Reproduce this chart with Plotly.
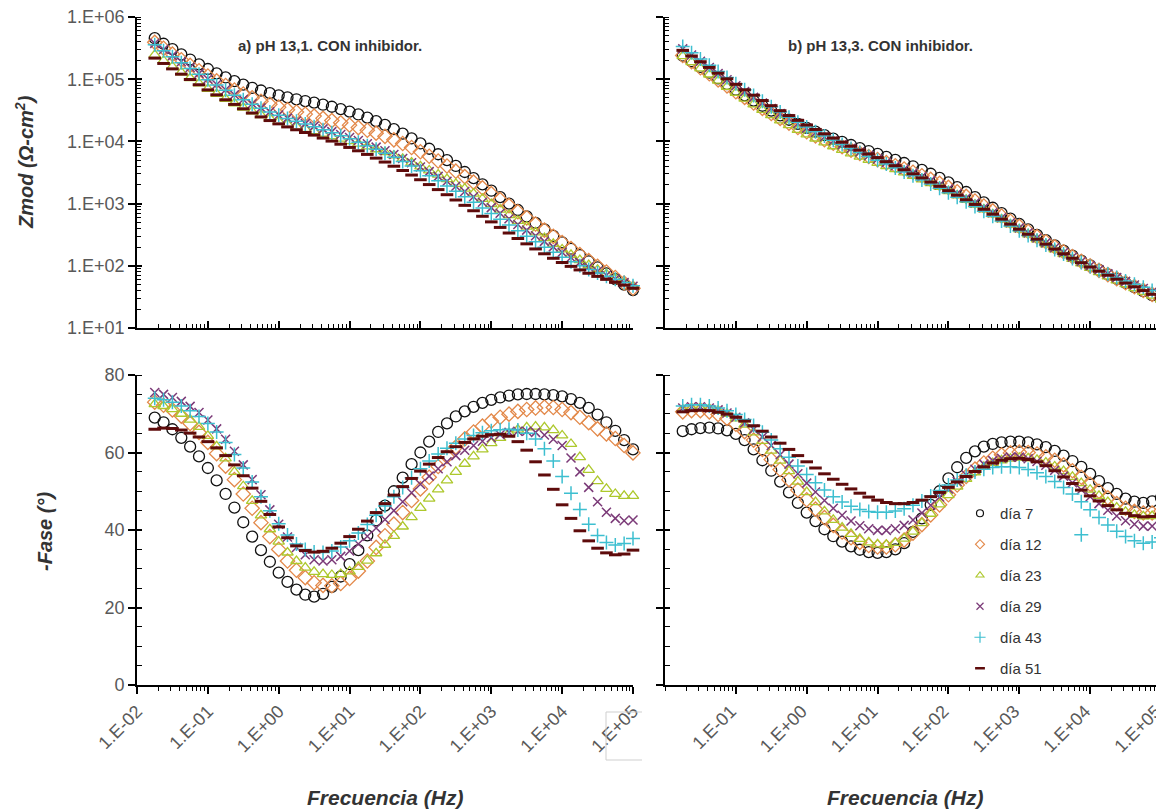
import plotly.graph_objects as go

# ---------------- data ----------------
freq = [0.0178, 0.0237, 0.0316, 0.0422, 0.0562, 0.075, 0.1, 0.133, 0.178, 0.237,
        0.316, 0.422, 0.562, 0.75, 1.0, 1.33, 1.78, 2.37, 3.16, 4.22,
        5.62, 7.5, 10, 13.3, 17.8, 23.7, 31.6, 42.2, 56.2, 75,
        100, 133, 178, 237, 316, 422, 562, 750, 1000, 1334,
        1778, 2371, 3162, 4217, 5623, 7499, 10000, 13335, 17783, 23714,
        31623, 42170, 56234, 74989, 100000]

series_names = ["día 7", "día 12", "día 23", "día 29", "día 43", "día 51"]

# panel a) pH 13,1 - Zmod (ohm-cm2)
a_zmod_d7 = [456000, 371500, 303400, 250000, 207000, 173400, 145900, 124200, 106700, 92900,
             81850, 72780, 65770, 59700, 54950, 50930, 47530, 44570, 41980, 38900,
             36060, 33110, 30060, 27100, 24100, 21130, 18370, 15740, 13340, 11170,
             9268, 7621, 6209, 5012, 4027, 3221, 2564, 2037, 1611, 1274,
             1002, 789, 621, 489, 385, 303, 238, 188, 149, 118,
             94.2, 75.5, 61.1, 49.7, 40.7]
a_zmod_d12 = [391700, 314800, 253500, 205100, 166700, 136800, 112700, 93970, 79070, 67140,
              57810, 50350, 44260, 39450, 35560, 32360, 29720, 27420, 25500, 23460,
              21610, 19890, 18250, 16670, 15110, 13560, 12050, 10600, 9240, 7973,
              6815, 5768, 4838, 4023, 3319, 2718, 2212, 1791, 1443, 1159,
              928, 741, 591, 470.7, 374.4, 297.7, 236.9, 189.0, 151.2, 121.5,
              98.1, 79.6, 64.8, 53.0, 43.6]
a_zmod_d23 = [246600, 198200, 159600, 129100, 104500, 85510, 70150, 58080, 48530, 41020,
              35080, 30340, 26550, 23500, 21040, 19010, 17340, 15850, 14620, 13340,
              12160, 11090, 10120, 9204, 8318, 7482, 6699, 5943, 5236, 4571,
              3963, 3412, 2917, 2472, 2080, 1738, 1445, 1191, 979.5, 799.8,
              651.6, 528.4, 427.6, 345.1, 279.3, 225.9, 183.2, 149.6, 123.3, 102.8,
              86.5, 73.3, 62.5, 53.5, 45.7]
a_zmod_d29 = [376700, 299900, 239300, 191400, 153800, 124200, 100500, 82220, 67610, 56230,
              47320, 40180, 34590, 30060, 26550, 23660, 21330, 19320, 17620, 15890,
              14350, 12910, 11590, 10350, 9183, 8091, 7079, 6152, 5309, 4550,
              3864, 3266, 2742, 2286, 1897, 1567, 1288, 1054, 861, 701.5,
              570.2, 462.4, 375.0, 304.1, 247.2, 201.4, 164.8, 136.1, 113.5, 95.7,
              81.8, 70.6, 61.4, 53.6, 46.8]
a_zmod_d43 = [358100, 287100, 229600, 184500, 148600, 120500, 97950, 80350, 66220, 55210,
              46560, 39630, 34200, 29790, 26300, 23390, 21040, 18970, 17220, 15420,
              13800, 12360, 10990, 9727, 8551, 7464, 6457, 5546, 4732, 4009,
              3365, 2805, 2323, 1914, 1574, 1285, 1047, 851.1, 691.8, 559.8,
              453.9, 367.3, 297.8, 242.7, 199.1, 164.4, 137.7, 116.7, 100.2, 87.3,
              76.7, 68.1, 60.5, 54.0, 47.9]
a_zmod_d51 = [218300, 179100, 146600, 120500, 98850, 81470, 67300, 55980, 46670, 39360,
              33420, 28580, 24770, 21630, 19140, 17100, 15380, 13900, 12620, 11320,
              10120, 9016, 7998, 7063, 6180, 5383, 4656, 3990, 3404, 2877,
              2421, 2023, 1679, 1390, 1143, 937.6, 767.4, 625.2, 508.2, 414.0,
              336.5, 274.8, 225.4, 186.6, 156.0, 132.1, 113.0, 97.9, 85.9, 75.9,
              67.6, 60.5, 54.3, 48.8, 43.6]

# panel a) pH 13,1 - -Fase (deg)
a_fase_d7 = [69, 67.8, 66, 63.8, 61.5, 59, 56, 52.8, 49.3, 45.8,
             42, 38.3, 34.8, 31.8, 29, 26.6, 24.6, 23.3, 22.8, 23.5,
             25.3, 28, 31.2, 34.8, 38.6, 42.5, 46.3, 50, 53.5, 57,
             60, 62.8, 65.3, 67.5, 69.3, 70.6, 71.8, 72.8, 73.6, 74.2,
             74.7, 75, 75.1, 75.1, 75, 74.8, 74.5, 73.8, 72.8, 71.5,
             69.8, 67.8, 65.6, 63.2, 60.8]
a_fase_d12 = [73, 72.2, 71, 69.4, 67.5, 65.2, 62.6, 59.7, 56.5, 53,
              49.3, 45.6, 41.9, 38.3, 35, 32, 29.6, 27.7, 26.4, 25.7,
              25.6, 26.2, 27.5, 29.4, 32, 35.5, 38.5, 41.5, 44.5, 47.6,
              50.6, 53.6, 56.4, 59, 61.4, 63.5, 65.3, 66.8, 68.1, 69.1,
              69.9, 70.6, 71.1, 71.5, 71.7, 71.6, 71.1, 70.3, 69.1, 67.7,
              66.1, 64.8, 63.6, 61.8, 59.9]
a_fase_d23 = [72.5, 72, 71.2, 70, 68.5, 66.6, 64.3, 61.6, 58.5, 55,
              51.3, 47.5, 43.8, 40.2, 37, 34.2, 32, 30.3, 29.2, 28.6,
              28.4, 28.6, 29.3, 30.5, 32.1, 34, 36.2, 38.5, 40.9, 43.3,
              45.7, 48.1, 50.5, 52.8, 55, 57.1, 59, 60.8, 62.4, 63.8,
              65, 65.9, 66.5, 66.7, 66.5, 65.8, 64.4, 62.2, 58.8, 55.5,
              52.6, 50.6, 49.3, 48.8, 48.8]
a_fase_d29 = [75.5, 75, 74.2, 73.2, 71.9, 70.3, 68.4, 66.1, 63.4, 60.3,
              56.8, 53, 49.1, 45.2, 41.5, 38.2, 35.5, 33.6, 32.3, 32,
              32.3, 33.2, 34.6, 36.4, 38.4, 40.5, 42.7, 45, 47.3, 49.6,
              51.8, 53.9, 55.8, 57.6, 59.2, 60.6, 61.8, 62.9, 63.8, 64.6,
              65.2, 65.5, 65.5, 65.2, 64.5, 63.4, 61.8, 58.6, 55, 51,
              47.3, 44.6, 43, 42.4, 42.6]
a_fase_d43 = [74, 73.6, 73, 72, 70.8, 69.3, 67.5, 65.3, 62.6, 59.5,
              56, 52.4, 48.6, 45, 41.6, 38.7, 36.4, 35, 34.3, 34.2,
              34.6, 35.6, 37.2, 39.2, 41.4, 43.8, 46.2, 48.6, 51, 53.5,
              55.8, 57.8, 59.6, 61.1, 62.4, 63.5, 64.4, 65.1, 65.6, 65.9,
              66, 65.8, 65, 63.5, 61, 57.8, 53.8, 49.5, 45.3, 41.5,
              38.6, 36.8, 36.1, 36.5, 37.8]
a_fase_d51 = [66, 66.3, 66.2, 65.8, 65, 64, 62.8, 61.2, 59.2, 56.8,
              54, 50.8, 47.4, 44, 40.8, 38, 35.9, 34.7, 34.3, 34.5,
              35.3, 36.6, 38.3, 40.2, 42.3, 44.5, 46.8, 49, 51.2, 53.3,
              55.2, 57, 58.7, 60.2, 61.5, 62.6, 63.5, 64.2, 64.6, 64.7,
              64.2, 62.8, 60.6, 57.6, 54.2, 50.5, 46.5, 43, 39.8, 37.2,
              35.3, 34.1, 33.6, 33.8, 34.8]

# panel b) pH 13,3 - Zmod (ohm-cm2)
b_zmod_d7 = [239900, 194500, 157400, 127100, 102800, 83370, 67610, 55080, 45190, 37410,
             31190, 26240, 22280, 19100, 16520, 14350, 12590, 11090, 9840, 8750,
             7816, 6998, 6281, 5623, 5035, 4498, 3981, 3491, 3020, 2588,
             2198, 1845, 1535, 1268, 1045, 857.0, 701.5, 574.1, 469.9, 384.6,
             314.8, 258.8, 212.8, 175.8, 145.9, 121.3, 101.6, 85.7, 72.6, 61.9,
             53.0, 45.5, 39.1, 33.7, 28.8]
b_zmod_d12 = [241000, 191900, 153100, 122200, 97720, 78160, 62950, 50930, 41400, 33960,
              28120, 23440, 19680, 16710, 14290, 12300, 10670, 9333, 8204, 7244,
              6427, 5715, 5105, 4550, 4055, 3606, 3192, 2805, 2449, 2118,
              1820, 1549, 1309, 1099, 916.2, 762.1, 631.0, 521.2, 430.5, 355.6,
              293.8, 243.2, 201.8, 167.9, 140.3, 117.8, 99.5, 84.5, 72.3, 62.1,
              53.6, 46.3, 40.2, 34.8, 30.2]
b_zmod_d23 = [235500, 187500, 149300, 118900, 94620, 75680, 60530, 48750, 39450, 32140,
              26360, 21830, 18200, 15310, 13000, 11140, 9616, 8356, 7328, 6442,
              5702, 5058, 4508, 4009, 3573, 3170, 2799, 2460, 2143, 1854,
              1589, 1355, 1146, 963.8, 807.2, 673.0, 559.8, 464.5, 385.5, 319.9,
              265.5, 220.8, 184.1, 153.8, 129.4, 109.1, 92.7, 79.1, 67.8, 58.5,
              50.6, 43.9, 38.2, 33.2, 28.8]
b_zmod_d29 = [307600, 244300, 194500, 154500, 123000, 98170, 78520, 63100, 51050, 41400,
              33880, 27930, 23170, 19360, 16330, 13900, 11890, 10230, 8872, 7727,
              6761, 5943, 5224, 4603, 4046, 3556, 3105, 2704, 2339, 2009,
              1714, 1455, 1227, 1028, 859.0, 714.5, 592.9, 492.0, 407.4, 338.1,
              280.5, 233.9, 195.4, 164.1, 138.4, 117.5, 100.2, 86.1, 74.3, 64.6,
              56.2, 49.2, 43.1, 37.8, 33.1]
b_zmod_d43 = [335000, 266100, 211300, 167500, 133400, 106200, 84720, 67920, 54700, 44260,
              36060, 29580, 24430, 20280, 17020, 14350, 12160, 10400, 8913, 7674,
              6637, 5741, 4977, 4315, 3741, 3236, 2793, 2404, 2061, 1762,
              1496, 1265, 1067, 895.4, 749.9, 628.1, 524.8, 437.5, 365.6, 306.2,
              256.4, 215.8, 182.0, 154.2, 131.2, 112.5, 97.0, 84.3, 73.6, 64.7,
              57.1, 50.6, 45.0, 40.0, 35.5]
b_zmod_d51 = [291100, 236000, 191000, 154900, 125300, 101600, 82790, 67610, 55340, 45390,
              37500, 31120, 26000, 21830, 18370, 15560, 13240, 11320, 9727, 8395,
              7261, 6310, 5495, 4721, 4064, 3499, 3013, 2588, 2218, 1897,
              1614, 1368, 1153, 970.5, 810.9, 677.6, 562.3, 467.7, 387.3, 321.4,
              267.3, 222.8, 186.2, 156.3, 132.1, 112.2, 95.7, 82.0, 70.6, 61.0,
              52.8, 45.9, 39.9, 34.8, 30.2]

# panel b) pH 13,3 - -Fase (deg)
b_fase_d7 = [65.5, 66, 66.3, 66.4, 66.2, 65.7, 64.8, 63.2, 60.8, 58,
             55.3, 52.5, 49.7, 47, 44.5, 42.3, 40.2, 38.4, 37, 35.8,
             34.9, 34.3, 34.1, 34.3, 35, 36.6, 39.5, 43, 46.5, 50,
             53.3, 56.2, 58.6, 60.3, 61.5, 62.2, 62.6, 62.8, 62.8, 62.6,
             62.1, 61.4, 60.4, 59.2, 57.8, 56.3, 54.5, 52.6, 50.8, 49.3,
             48.1, 47.3, 47, 47.4, 48.3]
b_fase_d12 = [70.5, 70.8, 70.8, 70.5, 69.8, 68.8, 67.3, 65.4, 63.2, 60.8,
              58.2, 55.6, 53, 50.3, 47.8, 45.4, 43.2, 41.2, 39.5, 38,
              36.8, 36, 35.6, 35.6, 36.2, 37.4, 39.2, 41.4, 43.9, 46.5,
              49.1, 51.6, 53.8, 55.7, 57.3, 58.5, 59.4, 59.9, 60.1, 60,
              59.6, 58.9, 58, 56.8, 55.3, 53.6, 51.8, 50, 48.3, 46.8,
              45.6, 44.8, 44.4, 44.4, 44.9]
b_fase_d23 = [71, 71.4, 71.5, 71.3, 70.8, 70, 68.8, 67.2, 65.2, 63,
              60.5, 57.9, 55.2, 52.5, 49.8, 47.2, 44.8, 42.6, 40.6, 39,
              37.7, 36.8, 36.3, 36.2, 36.7, 37.8, 39.6, 41.8, 44.2, 46.6,
              49, 51.2, 53.2, 54.9, 56.3, 57.3, 58, 58.4, 58.6, 58.5,
              58.1, 57.4, 56.4, 55.2, 53.7, 52.1, 50.4, 48.8, 47.2, 45.8,
              44.7, 43.9, 43.5, 43.6, 44.2]
b_fase_d29 = [71.5, 71.8, 71.8, 71.5, 71, 70.2, 69.1, 67.7, 66, 64,
              61.8, 59.4, 57, 54.5, 52.1, 49.8, 47.6, 45.6, 43.8, 42.3,
              41.1, 40.3, 39.9, 39.9, 40.3, 41.2, 42.6, 44.4, 46.4, 48.5,
              50.6, 52.5, 54.2, 55.7, 57, 57.9, 58.5, 58.8, 58.8, 58.4,
              57.7, 56.7, 55.4, 53.9, 52.2, 50.4, 48.6, 46.8, 45.1, 43.6,
              42.4, 41.5, 41, 41, 41.5]
b_fase_d43 = [72, 72.3, 72.3, 72, 71.5, 70.8, 69.8, 68.5, 67, 65.2,
              63.2, 61, 58.8, 56.5, 54.3, 52.2, 50.3, 48.6, 47.2, 46.1,
              45.3, 44.8, 44.6, 44.6, 44.9, 45.5, 46.4, 47.5, 48.8, 50.2,
              51.6, 52.9, 54.1, 55, 55.7, 56.1, 56.3, 56.3, 56.1, 55.6,
              54.8, 53.8, 52.5, 51, 49.3, 47.3, 45.2, 43.2, 41.3, 39.7,
              38.3, 37.2, 36.6, 36.9, 38]
b_fase_d51 = [70.5, 70.8, 70.9, 70.8, 70.4, 69.9, 69.1, 68.1, 66.9, 65.5,
              64, 62.4, 60.8, 59.2, 57.6, 56, 54.5, 53.1, 51.8, 50.6,
              49.5, 48.5, 47.7, 47.1, 46.8, 46.8, 47.1, 47.7, 48.6, 49.7,
              51, 52.4, 53.8, 55.1, 56.3, 57.3, 58, 58.4, 58.5, 58.2,
              57.6, 56.6, 55.3, 53.7, 52, 50.3, 48.8, 47.5, 46.3, 45.2,
              44.3, 43.7, 43.4, 43.5, 44]
# isolated point of día 43 in panel b
b_fase_d43_extra_freq = [7499]
b_fase_d43_extra = [38.8]

x_tickvals = [0.01, 0.1, 1, 10, 100, 1000, 10000, 100000]
x_ticktext = ["1.E-02", "1.E-01", "1.E+00", "1.E+01", "1.E+02", "1.E+03", "1.E+04", "1.E+05"]
z_tickvals = [10, 100, 1000, 10000, 100000, 1000000]
z_ticktext = ["1.E+01", "1.E+02", "1.E+03", "1.E+04", "1.E+05", "1.E+06"]
f_tickvals = [0, 20, 40, 60, 80]

all_lists = [a_zmod_d7, a_zmod_d12, a_zmod_d23, a_zmod_d29, a_zmod_d43, a_zmod_d51,
             a_fase_d7, a_fase_d12, a_fase_d23, a_fase_d29, a_fase_d43, a_fase_d51,
             b_zmod_d7, b_zmod_d12, b_zmod_d23, b_zmod_d29, b_zmod_d43, b_zmod_d51,
             b_fase_d7, b_fase_d12, b_fase_d23, b_fase_d29, b_fase_d43, b_fase_d51]
for i, lst in enumerate(all_lists):
    assert len(lst) == len(freq), (i, len(lst))

# ---------------- styling ----------------
# The page body adds an 8 px margin, so the figure is 8 px smaller than the
# window on each side and every target pixel coordinate is shifted by 8.
OFF = 8
W, H = 1164 - OFF, 812 - OFF
FONT = "Liberation Sans, Arial, sans-serif"
styles = [
    dict(symbol="circle-open", color="#111111", size=11, lw=1.3),
    dict(symbol="diamond-open", color="#E3894A", size=11, lw=1.3),
    dict(symbol="triangle-up-open", color="#ADC82C", size=10, lw=1.3),
    dict(symbol="x-thin", color="#7B3A78", size=9, lw=1.5),
    dict(symbol="cross-thin", color="#3DBFD0", size=10, lw=1.5),
    dict(symbol="line-ew", color="#5E0B0B", size=9, lw=3),
]

a_zmod = [a_zmod_d7, a_zmod_d12, a_zmod_d23, a_zmod_d29, a_zmod_d43, a_zmod_d51]
a_fase = [a_fase_d7, a_fase_d12, a_fase_d23, a_fase_d29, a_fase_d43, a_fase_d51]
b_zmod = [b_zmod_d7, b_zmod_d12, b_zmod_d23, b_zmod_d29, b_zmod_d43, b_zmod_d51]
b_fase = [b_fase_d7, b_fase_d12, b_fase_d23, b_fase_d29, b_fase_d43, b_fase_d51]


def px(x):
    return (x - OFF) / W


def py(y):
    return 1 - (y - OFF) / H


def marker(st, size=None, lw=None):
    return dict(symbol=st["symbol"], size=size or st["size"], color=st["color"],
                line=dict(color=st["color"], width=lw or st["lw"]))


fig = go.Figure()
panels = [(a_zmod, "x", "y"), (b_zmod, "x2", "y2"), (a_fase, "x3", "y3"), (b_fase, "x4", "y4")]
for data, xa, ya in panels:
    for k, vals in enumerate(data):
        fig.add_trace(go.Scatter(
            x=freq, y=vals, mode="markers", xaxis=xa, yaxis=ya,
            name=series_names[k], legendgroup=series_names[k], showlegend=False,
            cliponaxis=False, marker=marker(styles[k])))

fig.add_trace(go.Scatter(
    x=b_fase_d43_extra_freq, y=b_fase_d43_extra, mode="markers", xaxis="x4", yaxis="y4",
    showlegend=False, cliponaxis=False, marker=marker(styles[4])))

# legend entries (small symbols, like the reference legend)
legend_sizes = [7, 7, 7, 7, 8, 7]
legend_lw = [1.2, 1.1, 1.1, 1.2, 1.2, 2.5]
for k, name in enumerate(series_names):
    fig.add_trace(go.Scatter(
        x=[None], y=[None], mode="markers", xaxis="x4", yaxis="y4",
        name=name, legendgroup=name, showlegend=True,
        marker=marker(styles[k], legend_sizes[k], legend_lw[k])))

# invisible anchors for the overlay axes that draw the inner half of the major y ticks
for xa, ya in [("x", "y5"), ("x2", "y6"), ("x3", "y7"), ("x4", "y8")]:
    fig.add_trace(go.Scatter(x=[None], y=[None], xaxis=xa, yaxis=ya, showlegend=False,
                             mode="markers", hoverinfo="skip"))

left_dom = [px(137), px(633)]
right_dom = [px(665), px(1161)]
top_dom = [py(328), py(17)]
bot_dom = [py(685), py(375)]

tickfont = dict(family=FONT, size=18, color="#595959")


def xaxis(domain, anchor, ticks, labels, vals, texts, shift=0):
    return dict(type="log", range=[-2, 5], domain=domain, anchor=anchor, automargin=False,
                showline=True, linecolor="black", linewidth=1.6, mirror=False,
                showgrid=False, zeroline=False, ticklabeloverflow="allow",
                ticklabelshift=shift,
                tickmode="array", tickvals=vals, ticktext=texts,
                showticklabels=labels, tickangle=-45, tickfont=tickfont,
                ticks=ticks, ticklen=7, tickwidth=1.5, tickcolor="black",
                minor=dict(ticks=ticks, ticklen=4, tickwidth=1.2, tickcolor="black",
                           dtick="D1", showgrid=False))


def zaxis(domain, anchor, labels):
    return dict(type="log", range=[1, 6], domain=domain, anchor=anchor, automargin=False,
                showline=True, linecolor="black", linewidth=1.6,
                showgrid=False, zeroline=False, ticklabeloverflow="allow",
                tickmode="array", tickvals=z_tickvals, ticktext=z_ticktext,
                showticklabels=labels, tickfont=tickfont,
                ticks="outside", ticklen=7, tickwidth=1.5, tickcolor="black",
                minor=dict(ticks="inside", ticklen=4, tickwidth=1.2, tickcolor="black",
                           dtick="D1", showgrid=False))


def faxis(domain, anchor, labels):
    return dict(range=[0, 80], domain=domain, anchor=anchor, automargin=False,
                showline=True, linecolor="black", linewidth=1.6,
                showgrid=False, zeroline=False, ticklabeloverflow="allow",
                tickmode="array", tickvals=f_tickvals,
                showticklabels=labels, tickfont=tickfont,
                ticks="outside", ticklen=7, tickwidth=1.5, tickcolor="black",
                minor=dict(ticks="inside", ticklen=5, tickwidth=1.2, tickcolor="black",
                           dtick=5, showgrid=False))


def inner_ticks(anchor, overlay, log):
    d = dict(overlaying=overlay, anchor=anchor, automargin=False, showline=False,
             showgrid=False, zeroline=False, showticklabels=False,
             ticks="inside", ticklen=5, tickwidth=1.5, tickcolor="black",
             tickmode="array")
    if log:
        d.update(type="log", range=[1, 6], tickvals=z_tickvals)
    else:
        d.update(range=[0, 80], tickvals=f_tickvals)
    return d


fig.update_layout(
    width=W, height=H, margin=dict(l=0, r=0, t=0, b=0, autoexpand=False),
    paper_bgcolor="white", plot_bgcolor="white",
    font=dict(family=FONT, color="#333333"),
    xaxis=xaxis(left_dom, "y", "inside", False, x_tickvals, x_ticktext),
    xaxis2=xaxis(right_dom, "y2", "inside", False, x_tickvals, x_ticktext),
    xaxis3=xaxis(left_dom, "y3", "outside", True, x_tickvals, x_ticktext),
    xaxis4=xaxis(right_dom, "y4", "outside", True, x_tickvals[1:], x_ticktext[1:], shift=-5),
    yaxis=zaxis(top_dom, "x", True),
    yaxis2=zaxis(top_dom, "x2", False),
    yaxis3=faxis(bot_dom, "x3", True),
    yaxis4=faxis(bot_dom, "x4", False),
    yaxis5=inner_ticks("x", "y", True),
    yaxis6=inner_ticks("x2", "y2", True),
    yaxis7=inner_ticks("x3", "y3", False),
    yaxis8=inner_ticks("x4", "y4", False),
    legend=dict(x=px(960), y=py(497), xanchor="left", yanchor="top",
                bgcolor="rgba(0,0,0,0)", borderwidth=0, tracegroupgap=8.5, itemwidth=30,
                font=dict(family=FONT, size=15, color="#333333")),
    showlegend=True,
)

# white box behind the legend (hides the data under it, like the reference)
fig.add_shape(type="rect", xref="paper", yref="paper", layer="above",
              x0=px(966), x1=px(1052), y0=py(680), y1=py(493),
              fillcolor="white", line=dict(width=0))

title_font = dict(family=FONT, size=15, color="#333333")
axis_font = dict(family=FONT, size=20, color="#333333")
annotations = [
    dict(text="<b>a) pH 13,1. CON inhibidor.</b>", x=px(330), y=py(45), font=title_font),
    dict(text="<b>b) pH 13,3. CON inhibidor.</b>", x=px(880), y=py(45), font=title_font),
    dict(text="<b><i>Zmod (Ω-cm<sup>2</sup>)</i></b>", x=px(25), y=py(162), textangle=-90, font=axis_font),
    dict(text="<b><i>-Fase (°)</i></b>", x=px(45), y=py(532), textangle=-90, font=axis_font),
    dict(text="<b><i>Frecuencia (Hz)</i></b>", x=px(385), y=py(797),
         font=dict(family=FONT, size=21, color="#333333")),
    dict(text="<b><i>Frecuencia (Hz)</i></b>", x=px(905), y=py(797),
         font=dict(family=FONT, size=21, color="#333333")),
]
for a in annotations:
    fig.add_annotation(xref="paper", yref="paper", showarrow=False,
                       xanchor="center", yanchor="middle", **a)

# faint bracket left of the right panel's first tick label
for x0, y0, x1, y1 in [(606, 712, 642, 712), (606, 712, 606, 760), (606, 760, 642, 760)]:
    fig.add_shape(type="line", xref="paper", yref="paper",
                  x0=px(x0), y0=py(y0), x1=px(x1), y1=py(y1),
                  line=dict(color="#CFCFCF", width=1))

fig.write_html("out.html")
